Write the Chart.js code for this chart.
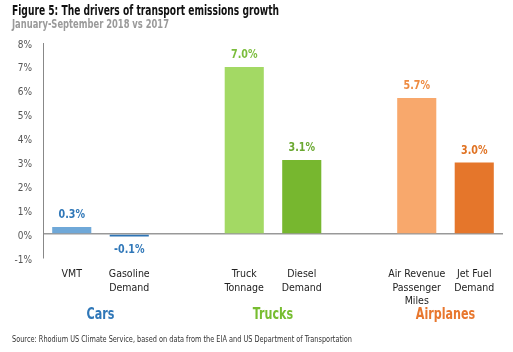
<!DOCTYPE html>
<html lang="en">
<head>
    <meta charset="UTF-8">
    <title>Figure 5</title>
    <script src="https://cdn.jsdelivr.net/npm/chart.js"></script>
    <style>
        body { margin: 0; background: #fff; }
        #box { position: relative; width: 513px; height: 352px; }
    </style>
</head>
<body>
<div id="box"><canvas id="grafico"></canvas></div>

<script>
    var FONTE = '"DejaVu Sans Condensed", "Liberation Sans Narrow", sans-serif';

    // dados
    var categorias = ['VMT', ['Gasoline', 'Demand'], '', ['Truck', 'Tonnage'], ['Diesel', 'Demand'], '', ['Air Revenue', 'Passenger', 'Miles'], ['Jet Fuel', 'Demand']];
    var valores = [0.3, -0.1, null, 7.0, 3.1, null, 5.7, 3.0];
    var rotulos = ['0.3%', '-0.1%', '', '7.0%', '3.1%', '', '5.7%', '3.0%'];
    var grupos = ['Cars', 'Trucks', 'Airplanes'];
    var grupoPosicao = [0.5, 3.5, 6.5];
    var ticksY = [-1, 0, 1, 2, 3, 4, 5, 6, 7, 8];

    var coresBarra = ['#6fa8d8', '#2e74b5', '#fff', '#a3d964', '#77b72f', '#fff', '#f8a86c', '#e5762b'];
    var coresRotulo = ['#2f77b8', '#2f77b8', '#fff', '#7bbd3c', '#6aa830', '#fff', '#ee8a40', '#e07222'];
    var coresGrupo = ['#2f77b8', '#77bd30', '#e8772e'];

    // texto um pouco mais estreito, parecido com a fonte condensada do original
    function textoEstreito(c, t, x, y, fator) {
        c.fillText(t, x, y, c.measureText(t).width * fator);
    }

    var textos = {
        id: 'textos',
        afterDraw: function (chart) {
            var c = chart.ctx;
            var x = chart.scales.x;
            c.save();
            // titulo
            c.textAlign = 'left';
            c.textBaseline = 'middle';
            c.fillStyle = '#111';
            c.font = 'bold 14.5px ' + FONTE;
            c.fillText('Figure 5: The drivers of transport emissions growth', 12, 11, 267);
            c.fillStyle = '#9a9a9a';
            c.font = 'bold 11.5px ' + FONTE;
            c.fillText('January-September 2018 vs 2017', 12, 25, 157);
            c.fillStyle = '#333';
            c.font = '9px ' + FONTE;
            c.fillText('Source: Rhodium US Climate Service, based on data from the EIA and US Department of Transportation', 12, 340, 340);

            // rotulos das barras
            var meta = chart.getDatasetMeta(0);
            c.textAlign = 'center';
            c.font = 'bold 12.5px ' + FONTE;
            meta.data.forEach(function (bar, i) {
                if (valores[i] === null) return;
                c.fillStyle = coresRotulo[i];
                if (valores[i] >= 0) {
                    textoEstreito(c, rotulos[i], bar.x, bar.y - 12, 0.85);
                } else {
                    textoEstreito(c, rotulos[i], bar.x, bar.y + 13, 0.85);
                }
            });

            // grupos
            c.font = 'bold 15.5px ' + FONTE;
            for (var g = 0; g < grupos.length; g++) {
                c.fillStyle = coresGrupo[g];
                var px = (x.getPixelForValue(Math.floor(grupoPosicao[g])) + x.getPixelForValue(Math.ceil(grupoPosicao[g]))) / 2;
                textoEstreito(c, grupos[g], px, 315, 0.8);
            }
            c.restore();
        }
    };

    new Chart(document.getElementById('grafico'), {
        type: 'bar',
        data: {
            labels: categorias,
            datasets: [{
                data: valores,
                backgroundColor: coresBarra,
                barPercentage: 0.68,
                categoryPercentage: 1
            }]
        },
        options: {
            responsive: true,
            maintainAspectRatio: false,
            animation: false,
            layout: { padding: { top: 43, left: 0, right: 10, bottom: 0 } },
            plugins: {
                legend: { display: false },
                tooltip: { enabled: false }
            },
            scales: {
                x: {
                    afterFit: function (s) { s.height = 94; },
                    grid: { display: false },
                    border: { display: false },
                    ticks: {
                        color: '#222',
                        font: { family: FONTE, size: 10.5, lineHeight: 1.28 },
                        padding: 2,
                        maxRotation: 0,
                        autoSkip: false
                    }
                },
                y: {
                    min: -1,
                    max: 8,
                    afterFit: function (s) { s.width = 43; },
                    afterBuildTicks: function (s) { s.ticks = ticksY.map(function (v) { return { value: v }; }); },
                    border: { display: true, color: '#888' },
                    grid: {
                        drawTicks: false,
                        color: function (ctx) { return ctx.tick && ctx.tick.value === 0 ? '#999' : 'rgba(0,0,0,0)'; },
                        lineWidth: 1.5
                    },
                    ticks: {
                        color: '#555',
                        font: { family: FONTE, size: 10 },
                        padding: 11,
                        labelOffset: 2,
                        callback: function (v) { return v + '%'; }
                    }
                }
            }
        },
        plugins: [textos]
    });
</script>
</body>
</html>
